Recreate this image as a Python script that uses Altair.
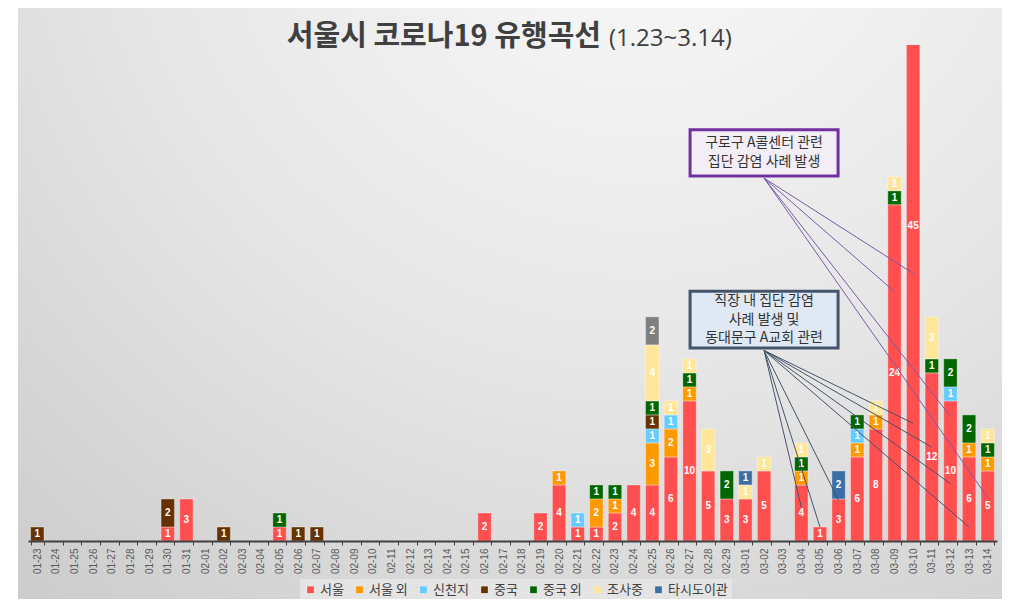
import altair as alt
import pandas as pd

dates = ["01-23","01-24","01-25","01-26","01-27","01-28","01-29","01-30","01-31",
         "02-01","02-02","02-03","02-04","02-05","02-06","02-07","02-08","02-09","02-10",
         "02-11","02-12","02-13","02-14","02-15","02-16","02-17","02-18","02-19","02-20",
         "02-21","02-22","02-23","02-24","02-25","02-26","02-27","02-28","02-29",
         "03-01","03-02","03-03","03-04","03-05","03-06","03-07","03-08","03-09","03-10",
         "03-11","03-12","03-13","03-14"]

series_names = ["서울", "서울 외", "신천지", "중국", "중국 외", "조사중", "타시도이관", "기타"]
legend_names = ["서울", "서울 외", "신천지", "중국", "중국 외", "조사중", "타시도이관"]
series_colors = ["#ff4f4f", "#ff9900", "#66ccff", "#663300", "#006600", "#ffe699", "#3a6ea5", "#7f7f7f"]

seoul = {"01-30": 1, "01-31": 3, "02-05": 1, "02-16": 2, "02-19": 2, "02-20": 4, "02-21": 1,
         "02-22": 1, "02-23": 2, "02-24": 4, "02-25": 4, "02-26": 6, "02-27": 10, "02-28": 5,
         "02-29": 3, "03-01": 3, "03-02": 5, "03-04": 4, "03-05": 1, "03-06": 3, "03-07": 6,
         "03-08": 8, "03-09": 24, "03-10": 45, "03-11": 12, "03-12": 10, "03-13": 6, "03-14": 5}
seoul_out = {"02-20": 1, "02-22": 2, "02-23": 1, "02-25": 3, "02-26": 2, "02-27": 1, "03-04": 1,
             "03-07": 1, "03-08": 1, "03-13": 1, "03-14": 1}
shincheonji = {"02-21": 1, "02-25": 1, "02-26": 1, "03-07": 1, "03-12": 1}
china = {"01-23": 1, "01-30": 2, "02-02": 1, "02-06": 1, "02-07": 1, "02-25": 1}
china_out = {"02-05": 1, "02-22": 1, "02-23": 1, "02-25": 1, "02-27": 1, "02-29": 2, "03-04": 1,
             "03-07": 1, "03-09": 1, "03-11": 1, "03-12": 2, "03-13": 2, "03-14": 1}
investigating = {"02-25": 4, "02-26": 1, "02-27": 1, "02-28": 3, "03-01": 1, "03-02": 1,
                 "03-04": 1, "03-08": 1, "03-09": 1, "03-11": 3, "03-14": 1}
transferred = {"03-01": 1, "03-06": 2}
other = {"02-25": 2}

# annotation callouts (anchor date/value -> target date/value)
box1_text = "구로구 A콜센터 관련\n집단 감염 사례 발생"
box1_anchor = ("03-02", 27.7)
box1_from = ("03-02", 25.9)
box1_targets = [("03-09", 17.8), ("03-10", 19.1), ("03-12", 8.9), ("03-14", 3.1)]

box2_text = "직장 내 집단 감염\n사례 발생 및\n동대문구 A교회 관련"
box2_anchor = ("03-02", 15.8)
box2_from = ("03-02", 13.6)
box2_targets = [("03-04", 2.4), ("03-05", 1.0), ("03-06", 2.9), ("03-10", 8.4),
                ("03-11", 6.7), ("03-12", 4.1), ("03-13", 1.0)]

all_series = [seoul, seoul_out, shincheonji, china, china_out, investigating, transferred, other]
rows = []
for i, (name, s) in enumerate(zip(series_names, all_series)):
    for d, v in s.items():
        rows.append({"date": d, "series": name, "ord": i, "value": v})
df = pd.DataFrame(rows)

lines1 = pd.DataFrame([{"x": box1_from[0], "y": box1_from[1], "x2": tx, "y2": ty}
                       for (tx, ty) in box1_targets])
lines2 = pd.DataFrame([{"x": box2_from[0], "y": box2_from[1], "x2": tx, "y2": ty}
                       for (tx, ty) in box2_targets])

YMAX = 35.4
xscale = alt.Scale(domain=dates, paddingInner=0.28, paddingOuter=0.14)
yscale = alt.Scale(domain=[0, YMAX], nice=False, zero=True)
xaxis = alt.Axis(title=None, labelAngle=-90, labelFontSize=10, labelColor="#595959",
                 labelFont="Liberation Sans", domainColor="#404040", domainWidth=2,
                 tickColor="#404040", tickSize=4, tickBand="extent", labelPadding=3,
                 zindex=1)

bg = alt.Chart(alt.Data(values=[{}])).mark_rect(
    fill={"gradient": "radial", "x1": 0.62, "y1": 0.05, "r1": 0.0,
          "x2": 0.62, "y2": 0.05, "r2": 0.95,
          "stops": [{"offset": 0, "color": "#fbfbfb"}, {"offset": 0.55, "color": "#e6e6e6"},
                    {"offset": 1, "color": "#cdcdcd"}]}
).encode(x=alt.value(-10), x2=alt.value(990), y=alt.value(-45), y2=alt.value(560))

base = alt.Chart(df).transform_stack(
    stack="value", as_=["y0", "y1"], groupby=["date"],
    sort=[alt.SortField("ord", order="ascending")]
).transform_calculate(mid="(datum.y0 + datum.y1) / 2")

bars = base.mark_bar(clip=True, stroke="#ffffff", strokeWidth=0.5, strokeOpacity=0.7).encode(
    x=alt.X("date:O", sort=dates, scale=xscale, axis=xaxis),
    y=alt.Y("y0:Q", scale=yscale, axis=None),
    y2="y1:Q",
    color=alt.Color("series:N", scale=alt.Scale(domain=series_names, range=series_colors),
                    legend=alt.Legend(values=legend_names, title=None, orient="none",
                                      direction="horizontal", legendX=272, legendY=534,
                                      symbolType="square", symbolSize=45, labelFontSize=13,
                                      labelFont="Noto Sans CJK KR", labelColor="#404040",
                                      columnPadding=9, fillColor="#e4e4e4", padding=4,
                                      labelOffset=3, symbolStrokeWidth=0)),
    order=alt.Order("ord:Q"),
)

labels = base.mark_text(color="white", fontSize=10, fontWeight="bold",
                        font="Liberation Sans").encode(
    x=alt.X("date:O", sort=dates, scale=xscale),
    y=alt.Y("mid:Q", scale=yscale),
    text="value:Q",
)

rules1 = alt.Chart(lines1).mark_rule(strokeWidth=1, color="#7a5aa6").encode(
    x=alt.X("x:O", scale=xscale), x2="x2:O",
    y=alt.Y("y:Q", scale=yscale), y2="y2:Q",
)
rules2 = alt.Chart(lines2).mark_rule(strokeWidth=1, color="#44546a").encode(
    x=alt.X("x:O", scale=xscale), x2="x2:O",
    y=alt.Y("y:Q", scale=yscale), y2="y2:Q",
)

box_df = pd.DataFrame([
    {"x": box1_anchor[0], "y": box1_anchor[1], "t": box1_text, "k": "a"},
    {"x": box2_anchor[0], "y": box2_anchor[1], "t": box2_text, "k": "b"},
])

box1 = alt.Chart(box_df).transform_filter("datum.k == 'a'").mark_point(
    shape="M-1,-0.311L1,-0.311L1,0.311L-1,0.311Z", size=148 * 148, filled=True,
    fill="#f3eef6", stroke="#7030a0", strokeWidth=3, opacity=1
).encode(x=alt.X("x:O", scale=xscale), y=alt.Y("y:Q", scale=yscale))

box2 = alt.Chart(box_df).transform_filter("datum.k == 'b'").mark_point(
    shape="M-1,-0.385L1,-0.385L1,0.385L-1,0.385Z", size=148 * 148, filled=True,
    fill="#dfe8f3", stroke="#44546a", strokeWidth=3, opacity=1
).encode(x=alt.X("x:O", scale=xscale), y=alt.Y("y:Q", scale=yscale))

box1_txt = alt.Chart(box_df).transform_filter("datum.k == 'a'").mark_text(
    lineBreak="\n", fontSize=14, lineHeight=19, font="Noto Sans CJK KR", color="#333333",
    baseline="middle", dy=-9.5
).encode(x=alt.X("x:O", scale=xscale), y=alt.Y("y:Q", scale=yscale), text="t:N")

box2_txt = alt.Chart(box_df).transform_filter("datum.k == 'b'").mark_text(
    lineBreak="\n", fontSize=14, lineHeight=18.5, font="Noto Sans CJK KR", color="#333333",
    baseline="middle", dy=-18.5
).encode(x=alt.X("x:O", scale=xscale), y=alt.Y("y:Q", scale=yscale), text="t:N")

title_main = alt.Chart(alt.Data(values=[{}])).mark_text(
    text="서울시 코로나19 유행곡선", font="Noto Sans CJK KR", fontSize=29, fontWeight="bold",
    color="#404040", align="right", baseline="middle"
).encode(x=alt.value(573), y=alt.value(-8))

title_sub = alt.Chart(alt.Data(values=[{}])).mark_text(
    text="(1.23~3.14)", font="Open Sans", fontSize=24, color="#404040",
    align="left", baseline="middle"
).encode(x=alt.value(581), y=alt.value(-6))

chart = alt.layer(bg, bars, labels, rules1, rules2, box1, box2, box1_txt, box2_txt,
                  title_main, title_sub).properties(
    width=969, height=496,
    autosize=alt.AutoSizeParams(type="none"),
    padding={"left": 20, "top": 37, "right": 5, "bottom": 58},
    background="#ffffff",
).configure_view(stroke=None)

chart.save("out.html", embed_options={"renderer": "svg", "actions": False})
